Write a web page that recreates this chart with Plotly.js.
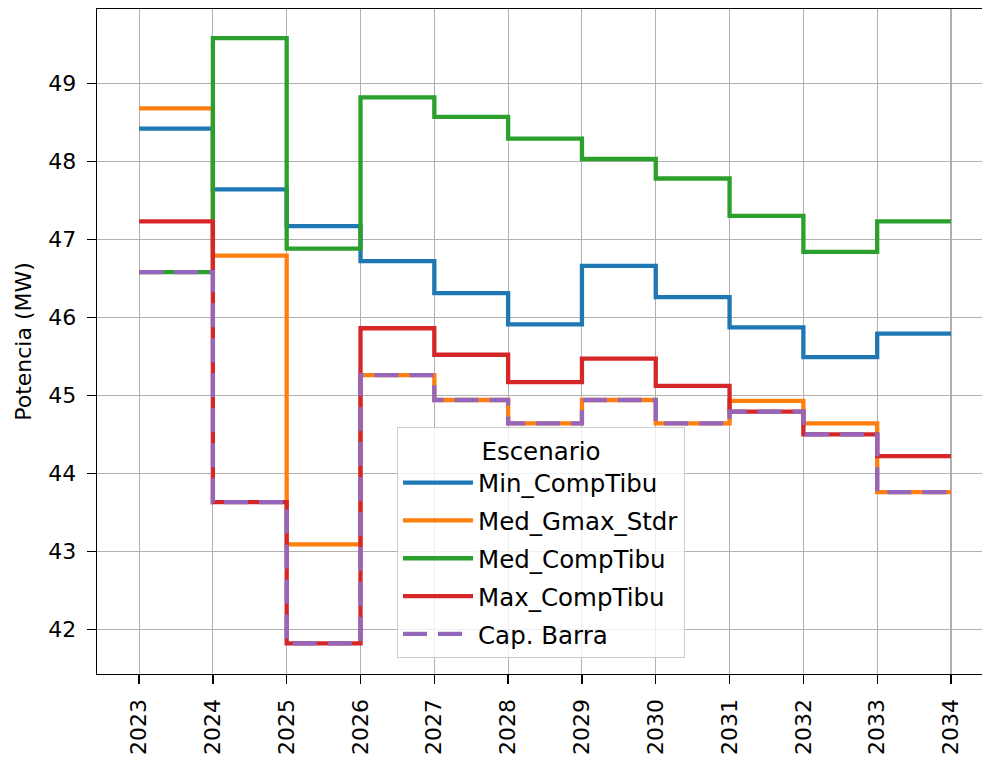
<!DOCTYPE html>
<html>
<head>
<meta charset="utf-8">
<script src="https://cdn.plot.ly/plotly-3.0.1.min.js"></script>
<style>
html,body{margin:0;padding:0;overflow:hidden;background:#fff;}
#chart{width:982px;height:758px;}
</style>
</head>
<body>
<div id="chart"></div>
<script>
const years = [2023,2024,2025,2026,2027,2028,2029,2030,2031,2032,2033,2034];
const minCompTibu  = [48.42,47.64,47.17,46.72,46.31,45.91,46.66,46.26,45.87,45.49,45.79,45.79];
const medGmaxStdr  = [48.68,46.79,43.09,45.26,44.94,44.64,44.94,44.64,44.93,44.64,43.76,43.76];
const medCompTibu  = [46.58,49.58,46.88,48.82,48.57,48.29,48.03,47.78,47.30,46.84,47.23,47.23];
const maxCompTibu  = [47.23,43.63,41.82,45.86,45.52,45.17,45.47,45.12,44.79,44.50,44.22,44.22];
const capBarra     = [46.58,43.63,41.82,45.26,44.94,44.64,44.94,44.64,44.79,44.50,43.76,43.76];
const seriesNames  = ["Min_CompTibu","Med_Gmax_Stdr","Med_CompTibu","Max_CompTibu","Cap. Barra"];
const yTicks = [42,43,44,45,46,47,48,49];

const F = "DejaVu Sans, Liberation Sans, sans-serif";
const FS = 22;
const LFS = 24.5;

function tr(y, name, color, dash){
  return {x: years, y: y, name: name, type:'scatter', mode:'lines',
    line:{shape:'hv', color:color, width:4.3, dash:dash||'solid'}, legendgroup:name};
}
const data = [
  tr(minCompTibu, seriesNames[0], '#1f77b4'),
  tr(medGmaxStdr, seriesNames[1], '#ff7f0e'),
  tr(medCompTibu, seriesNames[2], '#2ca02c'),
  tr(maxCompTibu, seriesNames[3], '#d62728'),
  tr(capBarra,    seriesNames[4], '#9467bd', '24px,11px')
];

const layout = {
  width:982, height:758,
  margin:{l:97, r:0, t:9, b:84, pad:0},
  paper_bgcolor:'#fff', plot_bgcolor:'#fff',
  font:{family:F, size:FS, color:'#000'},
  showlegend:true,
  xaxis:{
    range:[2022.43, 2034.42], tickvals:years, ticktext:years.map(String),
    tickangle:-90, ticks:'outside', ticklen:9, tickwidth:1.3, tickcolor:'#000',
    ticklabelstandoff:6,
    showgrid:true, gridcolor:'#b0b0b0', gridwidth:1.1,
    showline:true, linecolor:'#000', linewidth:1.3, mirror:true,
    zeroline:false, automargin:false, tickfont:{family:F, size:FS, color:'#000'}
  },
  yaxis:{
    range:[41.427, 49.953], tickvals:yTicks, ticktext:yTicks.map(String),
    ticks:'outside', ticklen:9, tickwidth:1.3, tickcolor:'#000',
    ticklabelstandoff:6,
    showgrid:true, gridcolor:'#b0b0b0', gridwidth:1.1,
    showline:true, linecolor:'#000', linewidth:1.3, mirror:false,
    zeroline:false, automargin:false, tickfont:{family:F, size:FS, color:'#000'},
    title:{text:'Potencia (MW)', font:{family:F, size:FS, color:'#000'}, standoff:10}
  },
  legend:{
    x:0.339, y:0.371, xanchor:'left', yanchor:'top',
    bgcolor:'rgba(255,255,255,0.8)', bordercolor:'#cccccc', borderwidth:1,
    font:{family:F, size:LFS, color:'#000'},
    title:{text:'Escenario', side:'top center', font:{family:F, size:LFS, color:'#000'}},
    traceorder:'grouped', tracegroupgap:3, itemwidth:70
  }
};
Plotly.newPlot('chart', data, layout, {displayModeBar:false, staticPlot:true});
</script>
</body>
</html>
